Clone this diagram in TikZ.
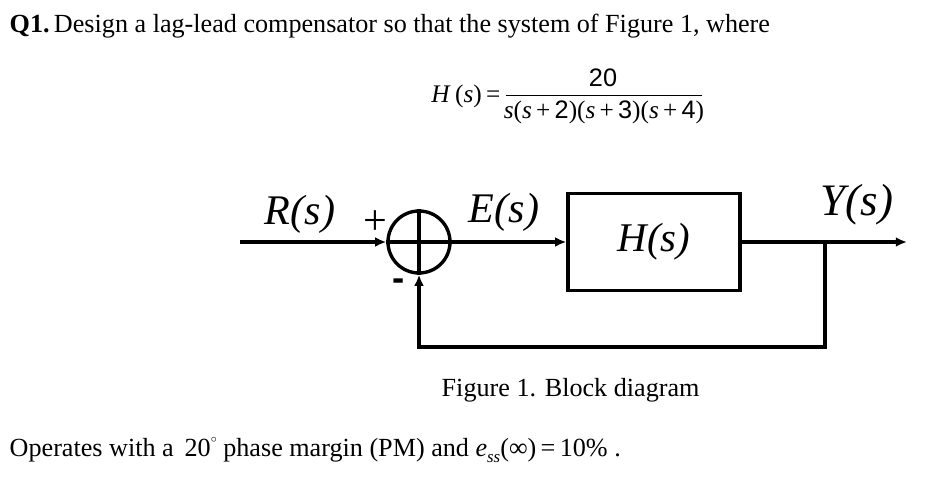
\documentclass[tikz,border=0pt]{standalone}
\usepackage{fontspec}
\setmainfont{Liberation Serif}
\setsansfont{Liberation Sans}
\usetikzlibrary{arrows.meta}

\begin{document}
\begin{tikzpicture}[>={Latex[length=8pt,width=7pt]},line width=2.4pt,
		block/.style={draw,minimum width=4.3cm,minimum height=2.425cm,inner sep=0pt},
		sumnode/.style={draw,circle,minimum size=1.55cm,inner sep=0pt},
		sig/.style={font=\fontsize{30}{34}\selectfont\itshape},
		txt/.style={font=\fontsize{18.6}{22}\selectfont,anchor=base west,inner sep=0pt},
		eqn/.style={font=\fontsize{18}{21}\selectfont,inner sep=0pt}]
		  \useasboundingbox (0,0) rectangle (23.15,-12.25);
		  \node[txt] (title) at (0.2,-0.825) {\textbf{Q1.}\,Design a lag-lead compensator so that the system of Figure 1, where};
		  \node[eqn,anchor=east] (hlhs) at (12.55,-2.4) {\textit{H}\,(\textit{s})\,=};
		  \node[eqn] (num) at (15.075,-1.95) {\sffamily 20};
		  \node[eqn] (den) at (15.1,-2.8) {\textit{s}(\textit{s}\,+\,{\sffamily 2})(\textit{s}\,+\,{\sffamily 3})(\textit{s}\,+\,{\sffamily 4})};
		  \draw[line width=0.7pt] (12.65,-2.375) -- (17.55,-2.375);
		  \node[sumnode] (sum) at (10.475,-6.05) {};
		  \draw (sum.north) -- (sum.south);
		  \draw (sum.west) -- (sum.east);
		  \node[block] (plant) at (16.35,-6.05) {};
		  \node[sig,font=\fontsize{29}{33}\selectfont\itshape] (hlbl) at (plant.center) {H(s)};
		  \coordinate (in) at (6.0,-6.05);
		  \coordinate (branch) at (20.625,-6.05);
		  \coordinate (out) at (22.675,-6.05);
		  \coordinate (fb) at (20.625,-8.675);
		  \draw[->] (in) -- (sum.west);
		  \draw[->] (sum.east) -- (plant.west);
		  \draw[->] (plant.east) -- (out);
		  \draw[->] (branch) -- (fb) -| (sum.south);
		  \node[sig] (rlbl) at (7.5,-5.36) {R(s)};
		  \node[sig] (elbl) at (12.6,-5.3) {E(s)};
		  \node[sig,font=\fontsize{32}{36}\selectfont\itshape] (ylbl) at (21.425,-5.125) {Y(s)};
		  \node[font=\fontsize{30}{34}\selectfont] (plus) at (9.375,-5.575) {+};
		  \node[font=\fontsize{26}{26}\selectfont\sffamily\bfseries] (minus) at (9.975,-7.125) {-};
		  \node[txt] (caption) at (11.0,-9.925) {Figure 1. Block diagram};
		  \node[txt] (spec) at (0.2,-11.425) {Operates with a \,20\raisebox{0.55em}{\fontsize{8}{8}\selectfont$\circ$} phase margin (PM) and \textit{e}\raisebox{-0.22em}{\fontsize{12}{12}\selectfont\textit{ss}}(∞)\,=\,10\% .};
		\end{tikzpicture}
\end{document}
